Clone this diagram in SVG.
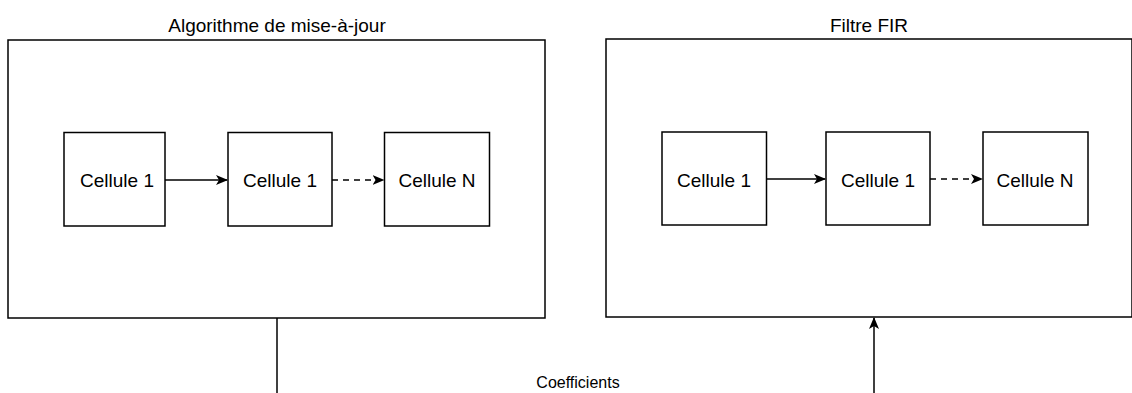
<svg xmlns="http://www.w3.org/2000/svg" width="1132" height="393" viewBox="0 0 1132 393">
<style>
.box{fill:#fff;stroke:#000;stroke-width:1.5}
.t{font-family:"Liberation Sans",Arial,sans-serif;font-size:19px;fill:#000;text-anchor:middle}
.c{fill:none;stroke:#000;stroke-width:1.5}
.d{stroke-dasharray:6 5}
</style>
<defs>
<marker id="ah" viewBox="0 0 12 10" refX="11" refY="5" markerWidth="12" markerHeight="10" markerUnits="userSpaceOnUse" orient="auto">
<path d="M0,0 L12,5 L0,10 L3,5 Z" fill="#000"/>
</marker>
</defs>
<g id="upd">
<rect class="box" x="8" y="40" width="537" height="278"/>
<text class="t" x="277" y="31.5">Algorithme de mise-à-jour</text>
</g>
<g id="fir">
<rect class="box" x="606" y="39" width="526" height="278"/>
<text class="t" x="869" y="31.5">Filtre FIR</text>
</g>
<g id="u1"><rect class="box" x="64" y="132.5" width="101" height="93.5"/><text class="t" x="117" y="187">Cellule 1</text></g>
<g id="u2"><rect class="box" x="228" y="132.5" width="104" height="93.5"/><text class="t" x="280" y="187">Cellule 1</text></g>
<g id="u3"><rect class="box" x="384.5" y="132.5" width="105" height="93.5"/><text class="t" x="437" y="187">Cellule N</text></g>
<g id="f1"><rect class="box" x="662" y="132" width="104.5" height="93"/><text class="t" x="714" y="187">Cellule 1</text></g>
<g id="f2"><rect class="box" x="826" y="132" width="104" height="93"/><text class="t" x="878" y="187">Cellule 1</text></g>
<g id="f3"><rect class="box" x="983" y="132" width="105" height="93"/><text class="t" x="1035" y="187">Cellule N</text></g>
<g id="connectors">
<line class="c" x1="165" y1="180" x2="227" y2="180" marker-end="url(#ah)"/>
<line class="c d" x1="332" y1="180" x2="383.5" y2="180" marker-end="url(#ah)"/>
<line class="c" x1="766.5" y1="179" x2="825" y2="179" marker-end="url(#ah)"/>
<line class="c d" x1="930" y1="179" x2="982" y2="179" marker-end="url(#ah)"/>
<line class="c" x1="277" y1="318" x2="277" y2="393"/>
<line class="c" x1="874" y1="393" x2="874" y2="318" marker-end="url(#ah)"/>
</g>
<text class="t" x="578" y="388" style="font-size:16px">Coefficients</text>
</svg>
